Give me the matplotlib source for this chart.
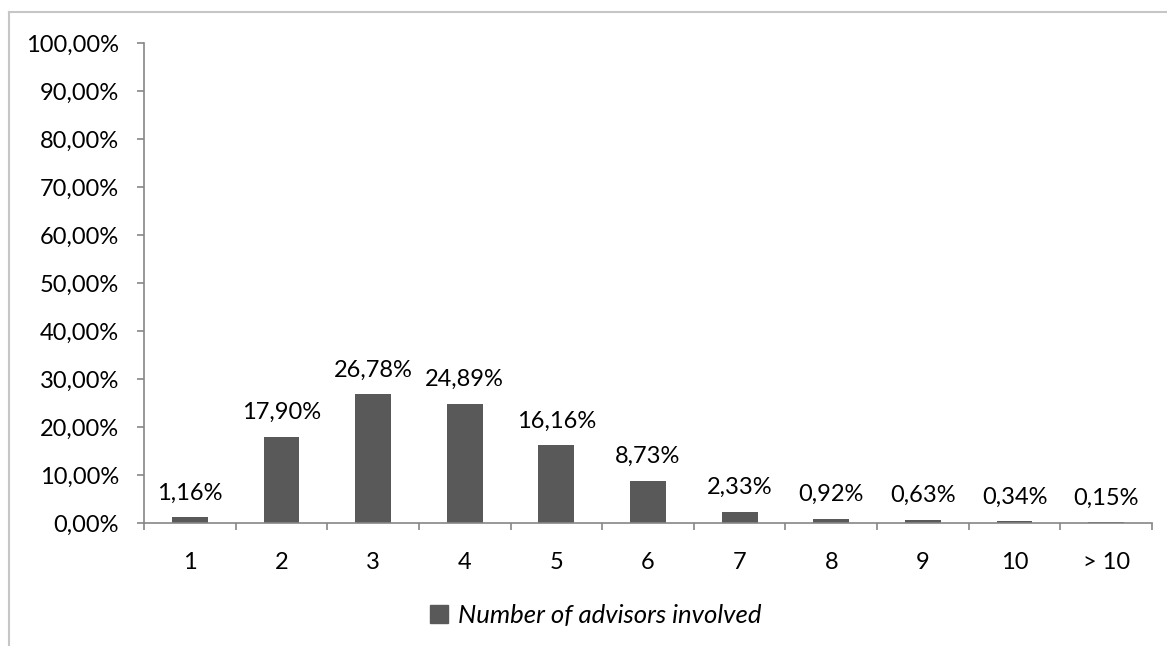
import matplotlib

matplotlib.use("Agg")
import matplotlib.pyplot as plt
from matplotlib.lines import Line2D
from matplotlib.patches import Patch

categories = ["1", "2", "3", "4", "5", "6", "7", "8", "9", "10", "> 10"]
shares = [1.16, 17.90, 26.78, 24.89, 16.16, 8.73, 2.33, 0.92, 0.63, 0.34, 0.15]
yticks = [0, 10, 20, 30, 40, 50, 60, 70, 80, 90, 100]
series_name = "Number of advisors involved"

BAR = "#595959"
AXIS = "#868686"
FRAME = "#c6c6c6"
FONT = "Lato"
FS = 17


def pct(v):
    return f"{v:.2f}%".replace(".", ",")


W, H = 1167, 646
fig = plt.figure(figsize=(W / 100, H / 100), dpi=100)
ax = fig.add_axes([144 / W, (H - 523) / H, (1152 - 144) / W, (523 - 43) / H])

xs = range(len(categories))
ax.bar(xs, shares, width=0.39, color=BAR, zorder=2)
for x, v in zip(xs, shares):
    ax.annotate(pct(v), (x, v), xytext=(0, 10), textcoords="offset points",
                ha="center", va="bottom", fontsize=FS, family=FONT, color="black")

ax.set_xlim(-0.5, len(categories) - 0.5)
ax.set_ylim(0, 100)
ax.set_yticks(yticks)
ax.set_yticklabels([pct(t) for t in yticks], fontsize=FS, family=FONT)
ax.set_xticks(list(xs))
ax.set_xticklabels(categories, fontsize=FS, family=FONT)
ax.set_xticks([k - 0.5 for k in range(len(categories) + 1)], minor=True)
ax.tick_params(axis="x", which="major", length=0, pad=21)
ax.tick_params(axis="x", which="minor", length=5, width=1.2, color=AXIS, direction="out")
ax.tick_params(axis="y", length=5, width=1.2, color=AXIS, pad=13)

for side in ("top", "right"):
    ax.spines[side].set_visible(False)
for side in ("left", "bottom"):
    ax.spines[side].set_color(AXIS)
    ax.spines[side].set_linewidth(1.2)

handle = Patch(facecolor=BAR, edgecolor=BAR)
fig.legend([handle], [series_name], loc="center", bbox_to_anchor=(596 / W, (H - 615) / H),
           frameon=False, handlelength=0.7, handleheight=0.7, handletextpad=0.4,
           prop={"family": FONT, "size": 18.5, "style": "italic"})

# outer chart frame (cropped on right and bottom)
fig.add_artist(Line2D([9 / W, 1.0], [(H - 12) / H] * 2, color=FRAME, lw=1.5,
                      transform=fig.transFigure))
fig.add_artist(Line2D([9 / W] * 2, [0, (H - 12) / H], color=FRAME, lw=1.5,
                      transform=fig.transFigure))

fig.savefig("out.png", dpi=100, facecolor="white")
